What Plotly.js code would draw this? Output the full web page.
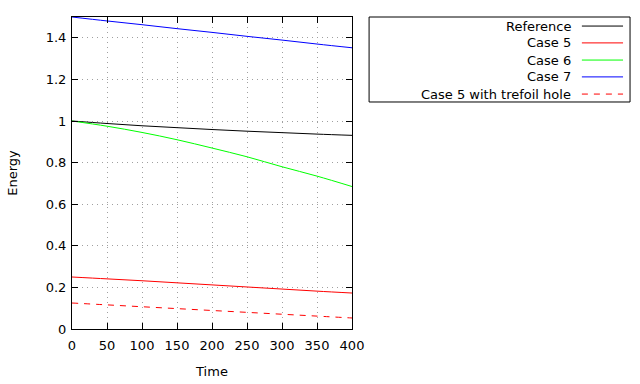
<!DOCTYPE html>
<html><head><meta charset="utf-8">
<script src="https://cdn.plot.ly/plotly-3.0.1.min.js"></script>
<style>body{margin:0;background:#fff}#c{width:640px;height:384px}</style>
</head><body><div id="c"></div>
<script>
const time = [0, 50, 100, 150, 200, 250, 300, 350, 400];
const reference = [1.0, 0.988, 0.977, 0.968, 0.959, 0.951, 0.944, 0.937, 0.931];
const case5 = [0.25, 0.241, 0.232, 0.222, 0.212, 0.202, 0.192, 0.182, 0.173];
const case6 = [1.0, 0.975, 0.945, 0.91, 0.87, 0.828, 0.78, 0.735, 0.685];
const case7 = [1.5, 1.481, 1.463, 1.444, 1.426, 1.407, 1.389, 1.370, 1.352];
const case5Trefoil = [0.125, 0.116, 0.107, 0.098, 0.089, 0.080, 0.071, 0.062, 0.053];
const names = ["Reference", "Case 5", "Case 6", "Case 7", "Case 5 with trefoil hole"];
const colors = ["#000000", "#ff0000", "#00ff00", "#0000ff", "#ff0000"];
const dashes = ["solid", "solid", "solid", "solid", "6px,6px"];
const series = [reference, case5, case6, case7, case5Trefoil];

const font = {family: "DejaVu Sans", size: 13, color: "#000"};
const traces = series.map((ys, i) => ({
  x: time, y: ys, name: names[i], mode: "lines", type: "scatter",
  line: {color: colors[i], width: 1, dash: dashes[i], shape: "spline"},
  showlegend: false
}));

// gnuplot-style legend (text right-aligned, sample line to the right)
const x0 = 1.061, x1 = 1.993, yTop = 1, yBot = 0.7276;
const rowY = [0.971, 0.917, 0.862, 0.808, 0.753];
const shapes = [{type: "rect", xref: "paper", yref: "paper", x0: x0, x1: x1, y0: yBot, y1: yTop,
  line: {color: "#000", width: 1}}];
const annotations = [];
names.forEach((n, i) => {
  shapes.push({type: "line", xref: "paper", yref: "paper", x0: 1.821, x1: 1.968, y0: rowY[i], y1: rowY[i],
    line: {color: colors[i], width: 1, dash: dashes[i]}});
  annotations.push({xref: "paper", yref: "paper", x: 1.789, y: rowY[i], text: n, showarrow: false,
    xanchor: "right", yanchor: "middle", font: font});
});

const layout = {
  width: 640, height: 384,
  margin: {l: 72, r: 288, t: 17, b: 55},
  paper_bgcolor: "#fff", plot_bgcolor: "#fff",
  font: font,
  xaxis: {range: [0, 400], dtick: 50, tick0: 0, showgrid: true, gridcolor: "#a0a0a0", griddash: "1px,4px",
    gridwidth: 1, zeroline: false, showline: true, linecolor: "#000", linewidth: 1, mirror: "ticks",
    ticks: "inside", ticklen: 6, tickcolor: "#000", ticklabelstandoff: 4,
    title: {text: "Time", font: font, standoff: 15}},
  yaxis: {range: [0, 1.5], dtick: 0.2, tick0: 0, showgrid: true, gridcolor: "#a0a0a0", griddash: "1px,4px",
    gridwidth: 1, zeroline: false, showline: true, linecolor: "#000", linewidth: 1, mirror: "ticks",
    ticks: "inside", ticklen: 6, tickcolor: "#000", ticklabelstandoff: 2,
    title: {text: "Energy", font: font, standoff: 25}},
  shapes: shapes, annotations: annotations
};
Plotly.newPlot("c", traces, layout, {staticPlot: true});
</script></body></html>
